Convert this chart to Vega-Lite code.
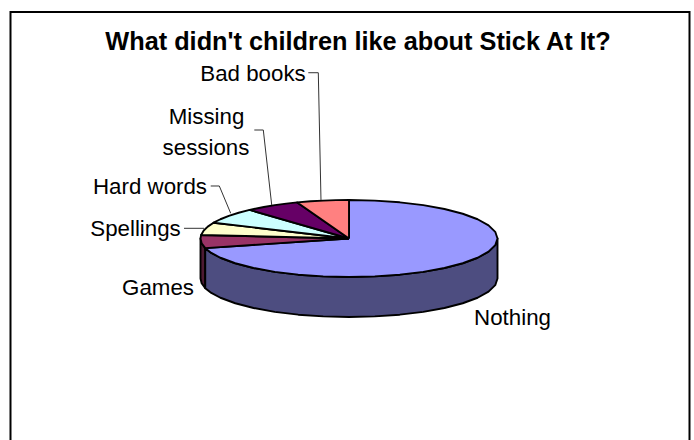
{
  "$schema": "https://vega.github.io/schema/vega-lite/v6.json",
  "width": 694,
  "height": 440,
  "autosize": {"type": "fit", "contains": "padding"},
  "padding": 0,
  "background": "white",
  "config": {"view": {"stroke": null}},
  "datasets": {
    "top": [
      {"part":"Nothing","i":0,"x":0,"y":0},
      {"part":"Nothing","i":1,"x":-0.9681,"y":0.2504},
      {"part":"Nothing","i":2,"x":-0.9272,"y":0.3746},
      {"part":"Nothing","i":3,"x":-0.866,"y":0.5},
      {"part":"Nothing","i":4,"x":-0.766,"y":0.6428},
      {"part":"Nothing","i":5,"x":-0.6428,"y":0.766},
      {"part":"Nothing","i":6,"x":-0.5,"y":0.866},
      {"part":"Nothing","i":7,"x":-0.342,"y":0.9397},
      {"part":"Nothing","i":8,"x":-0.1736,"y":0.9848},
      {"part":"Nothing","i":9,"x":0,"y":1},
      {"part":"Nothing","i":10,"x":0.1736,"y":0.9848},
      {"part":"Nothing","i":11,"x":0.342,"y":0.9397},
      {"part":"Nothing","i":12,"x":0.5,"y":0.866},
      {"part":"Nothing","i":13,"x":0.6428,"y":0.766},
      {"part":"Nothing","i":14,"x":0.766,"y":0.6428},
      {"part":"Nothing","i":15,"x":0.866,"y":0.5},
      {"part":"Nothing","i":16,"x":0.9397,"y":0.342},
      {"part":"Nothing","i":17,"x":0.9848,"y":0.1736},
      {"part":"Nothing","i":18,"x":1,"y":0},
      {"part":"Nothing","i":19,"x":0.9848,"y":-0.1736},
      {"part":"Nothing","i":20,"x":0.9397,"y":-0.342},
      {"part":"Nothing","i":21,"x":0.866,"y":-0.5},
      {"part":"Nothing","i":22,"x":0.766,"y":-0.6428},
      {"part":"Nothing","i":23,"x":0.6428,"y":-0.766},
      {"part":"Nothing","i":24,"x":0.5,"y":-0.866},
      {"part":"Nothing","i":25,"x":0.342,"y":-0.9397},
      {"part":"Nothing","i":26,"x":0.1736,"y":-0.9848},
      {"part":"Nothing","i":27,"x":0,"y":-1},
      {"part":"Nothing","i":28,"x":0,"y":0},
      {"part":"Games","i":0,"x":0,"y":0},
      {"part":"Games","i":1,"x":-0.9959,"y":-0.0906},
      {"part":"Games","i":2,"x":-1,"y":0},
      {"part":"Games","i":3,"x":-0.9925,"y":0.1219},
      {"part":"Games","i":4,"x":-0.9681,"y":0.2504},
      {"part":"Games","i":5,"x":0,"y":0},
      {"part":"Spellings","i":0,"x":0,"y":0},
      {"part":"Spellings","i":1,"x":-0.9121,"y":-0.4099},
      {"part":"Spellings","i":2,"x":-0.9511,"y":-0.309},
      {"part":"Spellings","i":3,"x":-0.9781,"y":-0.2079},
      {"part":"Spellings","i":4,"x":-0.9959,"y":-0.0906},
      {"part":"Spellings","i":5,"x":0,"y":0},
      {"part":"Hard words","i":0,"x":0,"y":0},
      {"part":"Hard words","i":1,"x":-0.6691,"y":-0.7431},
      {"part":"Hard words","i":2,"x":-0.7431,"y":-0.6691},
      {"part":"Hard words","i":3,"x":-0.809,"y":-0.5878},
      {"part":"Hard words","i":4,"x":-0.866,"y":-0.5},
      {"part":"Hard words","i":5,"x":-0.9121,"y":-0.4099},
      {"part":"Hard words","i":6,"x":0,"y":0},
      {"part":"Missing sessions","i":0,"x":0,"y":0},
      {"part":"Missing sessions","i":1,"x":-0.3486,"y":-0.9373},
      {"part":"Missing sessions","i":2,"x":-0.4226,"y":-0.9063},
      {"part":"Missing sessions","i":3,"x":-0.5,"y":-0.866},
      {"part":"Missing sessions","i":4,"x":-0.5736,"y":-0.8192},
      {"part":"Missing sessions","i":5,"x":-0.6691,"y":-0.7431},
      {"part":"Missing sessions","i":6,"x":0,"y":0},
      {"part":"Bad books","i":0,"x":0,"y":0},
      {"part":"Bad books","i":1,"x":0,"y":-1},
      {"part":"Bad books","i":2,"x":-0.0868,"y":-0.9962},
      {"part":"Bad books","i":3,"x":-0.1736,"y":-0.9848},
      {"part":"Bad books","i":4,"x":-0.2588,"y":-0.9659},
      {"part":"Bad books","i":5,"x":-0.3486,"y":-0.9373},
      {"part":"Bad books","i":6,"x":0,"y":0}
    ],
    "sides": [
      {"part":"Games side","x":-1,"y":0,"low":1.039},
      {"part":"Games side","x":-0.9925,"y":0.1219,"low":1.1609},
      {"part":"Games side","x":-0.9681,"y":0.2504,"low":1.2894},
      {"part":"Nothing side","x":-0.9681,"y":0.2504,"low":1.2894},
      {"part":"Nothing side","x":-0.9272,"y":0.3746,"low":1.4136},
      {"part":"Nothing side","x":-0.866,"y":0.5,"low":1.539},
      {"part":"Nothing side","x":-0.766,"y":0.6428,"low":1.6818},
      {"part":"Nothing side","x":-0.6428,"y":0.766,"low":1.805},
      {"part":"Nothing side","x":-0.5,"y":0.866,"low":1.905},
      {"part":"Nothing side","x":-0.342,"y":0.9397,"low":1.9787},
      {"part":"Nothing side","x":-0.1736,"y":0.9848,"low":2.0238},
      {"part":"Nothing side","x":0,"y":1,"low":2.039},
      {"part":"Nothing side","x":0.1736,"y":0.9848,"low":2.0238},
      {"part":"Nothing side","x":0.342,"y":0.9397,"low":1.9787},
      {"part":"Nothing side","x":0.5,"y":0.866,"low":1.905},
      {"part":"Nothing side","x":0.6428,"y":0.766,"low":1.805},
      {"part":"Nothing side","x":0.766,"y":0.6428,"low":1.6818},
      {"part":"Nothing side","x":0.866,"y":0.5,"low":1.539},
      {"part":"Nothing side","x":0.9397,"y":0.342,"low":1.381},
      {"part":"Nothing side","x":0.9848,"y":0.1736,"low":1.2126},
      {"part":"Nothing side","x":1,"y":0,"low":1.039}
    ],
    "labels": [
      {"text":"Bad books","x":-0.6465,"y":-4.091},
      {"text":"Missing","x":-0.9596,"y":-2.974},
      {"text":"sessions","x":-0.963,"y":-2.169},
      {"text":"Hard words","x":-1.34,"y":-1.148},
      {"text":"Spellings","x":-1.4377,"y":-0.065},
      {"text":"Games","x":-1.286,"y":1.468},
      {"text":"Nothing","x":1.101,"y":2.247}
    ],
    "leaders": [
      {"label":"Bad books","i":0,"x":-0.2741,"y":-4.306},
      {"label":"Bad books","i":1,"x":-0.2067,"y":-4.306},
      {"label":"Bad books","i":2,"x":-0.1886,"y":-1},
      {"label":"Missing sessions","i":0,"x":-0.6377,"y":-2.818},
      {"label":"Missing sessions","i":1,"x":-0.5771,"y":-2.818},
      {"label":"Missing sessions","i":2,"x":-0.5205,"y":-0.87},
      {"label":"Hard words","i":0,"x":-0.9313,"y":-1.364},
      {"label":"Hard words","i":1,"x":-0.8734,"y":-1.364},
      {"label":"Hard words","i":2,"x":-0.7966,"y":-0.6545},
      {"label":"Spellings","i":0,"x":-1.1111,"y":-0.2649},
      {"label":"Spellings","i":1,"x":-0.9764,"y":-0.2649}
    ]
  },
  "layer": [
    {
      "data": {"values": [{"x0":-2.2795,"x1":2.2929,"y0":-5.883,"y1":5.5}]},
      "mark": {"type":"rect","fill":"white","stroke":"black","strokeWidth":2,"clip":true},
      "encoding": {
        "x": {"field":"x0","type":"quantitative"},
        "x2": {"field":"x1"},
        "y": {"field":"y0","type":"quantitative"},
        "y2": {"field":"y1"}
      }
    },
    {
      "data": {"name":"sides"},
      "mark": {"type":"area","stroke":"black","strokeWidth":1.9,"strokeJoin":"round","orient":"vertical"},
      "encoding": {
        "x": {"field":"x","type":"quantitative"},
        "y": {"field":"y","type":"quantitative"},
        "y2": {"field":"low"},
        "fill": {"field":"part","type":"nominal"}
      }
    },
    {
      "data": {"name":"top"},
      "mark": {"type":"line","stroke":"black","strokeWidth":1.9,"strokeJoin":"round"},
      "encoding": {
        "x": {"field":"x","type":"quantitative"},
        "y": {"field":"y","type":"quantitative"},
        "order": {"field":"i","type":"quantitative"},
        "detail": {"field":"part"},
        "fill": {"field":"part","type":"nominal"}
      }
    },
    {
      "data": {"name":"leaders"},
      "mark": {"type":"line","stroke":"#333333","strokeWidth":1},
      "encoding": {
        "x": {"field":"x","type":"quantitative"},
        "y": {"field":"y","type":"quantitative"},
        "order": {"field":"i","type":"quantitative"},
        "detail": {"field":"label"}
      }
    },
    {
      "data": {"name":"labels"},
      "mark": {"type":"text","font":"Liberation Sans","fontSize":22.3,"color":"black","align":"center","baseline":"alphabetic"},
      "encoding": {
        "x": {"field":"x","type":"quantitative"},
        "y": {"field":"y","type":"quantitative"},
        "text": {"field":"text"}
      }
    },
    {
      "data": {"values": [{"text":"What didn't children like about Stick At It?","x":0.0606,"y":-4.896}]},
      "mark": {"type":"text","font":"Liberation Sans","fontSize":25.3,"fontWeight":"bold","color":"black","align":"center","baseline":"alphabetic"},
      "encoding": {
        "x": {"field":"x","type":"quantitative"},
        "y": {"field":"y","type":"quantitative"},
        "text": {"field":"text"}
      }
    }
  ],
  "encoding": {
    "x": {"type":"quantitative","axis":null,"scale":{"domain":[-2.3502,2.3232],"nice":false,"zero":false}},
    "y": {"type":"quantitative","axis":null,"scale":{"domain":[-6.1948,5.2338],"reverse":true,"nice":false,"zero":false}},
    "fill": {
      "legend": null,
      "scale": {
        "domain": ["Nothing","Games","Spellings","Hard words","Missing sessions","Bad books","Nothing side","Games side"],
        "range": ["#9999FF","#993366","#FFFFCC","#CCFFFF","#660066","#FF8080","#4D4D80","#4D1A33"]
      }
    }
  }
}
